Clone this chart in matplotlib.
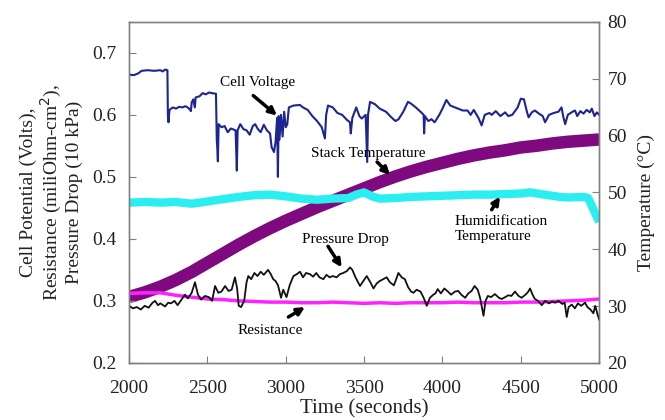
import matplotlib.pyplot as plt
import numpy as np

plt.rcParams['font.family'] = ['Liberation Serif', 'DejaVu Serif']

# cell voltage (V)
volt_t = [2000, 2030, 2060, 2080, 2120, 2160, 2200, 2215, 2230, 2245, 2248, 2252, 2258, 2280, 2300,
          2320, 2340, 2360, 2380, 2395, 2400, 2410, 2420, 2425, 2450, 2470, 2490, 2510, 2530, 2555,
          2560, 2563, 2567, 2572, 2590, 2610, 2630, 2650, 2680, 2688, 2693, 2710, 2730, 2750, 2770,
          2790, 2805, 2820, 2840, 2860, 2880, 2900, 2910, 2925, 2935, 2945, 2950, 2955, 2960, 2970,
          2980, 2990, 3000, 3010, 3020, 3050, 3090, 3110, 3140, 3170, 3200, 3230, 3250, 3258, 3270,
          3300, 3330, 3360, 3390, 3410, 3415, 3425, 3450, 3470, 3485, 3510, 3520, 3525, 3538, 3570,
          3600, 3640, 3670, 3700, 3720, 3750, 3780, 3800, 3830, 3860, 3880, 3883, 3888, 3910, 3930,
          3950, 3980, 4000, 4025, 4050, 4080, 4100, 4130, 4160, 4180, 4200, 4230, 4250, 4270, 4300,
          4314, 4340, 4370, 4400, 4420, 4445, 4460, 4480, 4500, 4520, 4540, 4550, 4570, 4590, 4610,
          4640, 4655, 4680, 4710, 4740, 4760, 4770, 4783, 4800, 4830, 4846, 4860, 4880, 4900, 4920,
          4940, 4953, 4970, 4985, 5000]
volt_v = [0.665, 0.664, 0.667, 0.671, 0.672, 0.671, 0.672, 0.670, 0.673, 0.672, 0.600, 0.588, 0.608, 0.612, 0.610,
          0.613, 0.612, 0.614, 0.611, 0.606, 0.620, 0.625, 0.612, 0.628, 0.630, 0.635, 0.633, 0.636, 0.635, 0.634,
          0.560, 0.548, 0.525, 0.585, 0.580, 0.582, 0.572, 0.578, 0.575, 0.510, 0.575, 0.585, 0.577, 0.575, 0.568,
          0.582, 0.585, 0.578, 0.572, 0.584, 0.575, 0.570, 0.548, 0.540, 0.556, 0.595, 0.500, 0.598, 0.560, 0.600,
          0.565, 0.605, 0.580, 0.585, 0.612, 0.615, 0.616, 0.612, 0.608, 0.598, 0.590, 0.580, 0.562, 0.600, 0.615,
          0.612, 0.603, 0.600, 0.592, 0.588, 0.570, 0.595, 0.612, 0.598, 0.594, 0.600, 0.524, 0.600, 0.621, 0.617,
          0.610, 0.605, 0.597, 0.590, 0.593, 0.605, 0.621, 0.618, 0.612, 0.605, 0.600, 0.570, 0.598, 0.590, 0.593,
          0.588, 0.600, 0.610, 0.624, 0.615, 0.612, 0.610, 0.607, 0.607, 0.600, 0.608, 0.595, 0.583, 0.600, 0.603,
          0.600, 0.606, 0.598, 0.604, 0.598, 0.600, 0.605, 0.612, 0.626, 0.625, 0.604, 0.596, 0.604, 0.607, 0.603,
          0.598, 0.588, 0.600, 0.603, 0.605, 0.612, 0.598, 0.585, 0.600, 0.605, 0.607, 0.598, 0.606, 0.602, 0.608,
          0.604, 0.610, 0.598, 0.604, 0.600]

# stack temperature (deg C)
stack_t = [2000, 2100, 2200, 2300, 2400, 2500, 2600, 2700, 2800, 2900, 3000, 3100, 3200, 3300, 3400, 3500,
           3600, 3700, 3800, 3900, 4000, 4100, 4200, 4300, 4400, 4500, 4600, 4700, 4800, 4900, 5000]
stack_v = [31.6, 32.4, 33.4, 34.6, 36.0, 37.6, 39.2, 40.8, 42.3, 43.7, 45.0, 46.2, 47.4, 48.5, 49.6, 50.7,
           51.8, 52.8, 53.7, 54.5, 55.2, 55.9, 56.5, 57.0, 57.4, 57.9, 58.2, 58.6, 58.9, 59.1, 59.3]

# humidification temperature (deg C)
humid_t = [2000, 2100, 2200, 2300, 2400, 2500, 2600, 2700, 2800, 2900, 3000, 3100, 3200, 3300, 3400, 3450,
           3500, 3550, 3600, 3700, 3800, 3900, 4000, 4100, 4200, 4300, 4400, 4500, 4560, 4650, 4750, 4800,
           4900, 4930, 4960, 4980, 5000]
humid_v = [48.2, 48.3, 48.2, 48.3, 48.0, 48.4, 48.8, 49.2, 49.5, 49.6, 49.3, 48.9, 48.7, 48.9, 49.0, 49.6,
           50.0, 49.3, 48.9, 49.0, 49.2, 49.3, 49.4, 49.5, 49.6, 49.6, 49.7, 49.8, 50.0, 49.6, 49.2, 49.1,
           49.2, 49.0, 47.2, 46.0, 44.8]

# resistance (miliOhm-cm2)
res_t = [2000, 2100, 2200, 2300, 2400, 2500, 2600, 2700, 2800, 2900, 3000, 3100, 3200, 3300, 3400, 3500,
         3600, 3700, 3800, 3900, 4000, 4100, 4200, 4300, 4400, 4500, 4600, 4700, 4800, 4900, 5000]
res_v = [0.312, 0.313, 0.313, 0.309, 0.306, 0.303, 0.302, 0.300, 0.299, 0.298, 0.298, 0.297, 0.297, 0.298, 0.297, 0.296,
         0.297, 0.296, 0.297, 0.297, 0.297, 0.298, 0.297, 0.297, 0.297, 0.298, 0.298, 0.299, 0.300, 0.301, 0.303]

# pressure drop (10 kPa)
press_t = [2000, 2025, 2050, 2075, 2100, 2125, 2150, 2166, 2185, 2200, 2230, 2250, 2268, 2290, 2310, 2335,
           2357, 2375, 2400, 2421, 2440, 2460, 2485, 2510, 2530, 2549, 2570, 2590, 2613, 2635, 2655, 2676,
           2690, 2700, 2715, 2735, 2750, 2761, 2780, 2800, 2820, 2840, 2860, 2887, 2905, 2920, 2935, 2951,
           2970, 2984, 3005, 3025, 3049, 3070, 3091, 3110, 3130, 3155, 3175, 3195, 3215, 3240, 3260, 3280,
           3300, 3325, 3345, 3367, 3390, 3410, 3425, 3445, 3474, 3495, 3517, 3540, 3560, 3580, 3600, 3622,
           3644, 3665, 3690, 3705, 3719, 3740, 3760, 3781, 3800, 3815, 3835, 3860, 3880, 3900, 3920, 3942,
           3955, 3970, 3990, 4012, 4035, 4055, 4080, 4101, 4120, 4145, 4165, 4186, 4205, 4225, 4240, 4250,
           4262, 4275, 4290, 4310, 4335, 4360, 4378, 4400, 4420, 4440, 4463, 4485, 4505, 4530, 4545, 4559,
           4575, 4590, 4610, 4634, 4655, 4680, 4700, 4719, 4740, 4765, 4780, 4793, 4805, 4825, 4845, 4865,
           4885, 4910, 4925, 4945, 4963, 4975, 4990, 5000]
press_v = [0.292, 0.288, 0.290, 0.286, 0.292, 0.289, 0.297, 0.300, 0.293, 0.296, 0.291, 0.297, 0.296, 0.300, 0.293, 0.302,
           0.310, 0.304, 0.313, 0.330, 0.310, 0.302, 0.308, 0.306, 0.300, 0.324, 0.313, 0.315, 0.324, 0.316, 0.318, 0.338,
           0.320, 0.292, 0.290, 0.300, 0.330, 0.340, 0.335, 0.345, 0.340, 0.347, 0.342, 0.350, 0.343, 0.335, 0.332, 0.325,
           0.305, 0.318, 0.306, 0.325, 0.340, 0.343, 0.347, 0.338, 0.345, 0.343, 0.339, 0.345, 0.338, 0.335, 0.342, 0.338,
           0.340, 0.338, 0.343, 0.345, 0.348, 0.354, 0.350, 0.338, 0.324, 0.332, 0.340, 0.330, 0.320, 0.328, 0.332, 0.335,
           0.338, 0.330, 0.325, 0.335, 0.345, 0.338, 0.335, 0.322, 0.315, 0.313, 0.318, 0.315, 0.305, 0.292, 0.305, 0.310,
           0.312, 0.319, 0.312, 0.320, 0.315, 0.310, 0.315, 0.316, 0.310, 0.305, 0.312, 0.316, 0.324, 0.318, 0.305, 0.292,
           0.276, 0.300, 0.308, 0.306, 0.311, 0.305, 0.303, 0.306, 0.309, 0.308, 0.315, 0.308, 0.305, 0.310, 0.314, 0.320,
           0.310, 0.303, 0.300, 0.293, 0.300, 0.296, 0.299, 0.297, 0.300, 0.295, 0.297, 0.274, 0.290, 0.294, 0.288, 0.296,
           0.292, 0.297, 0.290, 0.286, 0.280, 0.292, 0.278, 0.270]

x_ticks = [2000, 2500, 3000, 3500, 4000, 4500, 5000]
left_ticks = [0.2, 0.3, 0.4, 0.5, 0.6, 0.7]
right_ticks = [20, 30, 40, 50, 60, 70, 80]

fig = plt.figure(figsize=(6.65, 4.2), dpi=100)
ax = fig.add_axes([0.194, 0.136, 0.707, 0.812])
ax2 = ax.twinx()

# temperature bands drawn below the left-axis lines
ax2.plot(stack_t, stack_v, color='#7f0a7f', linewidth=9, solid_capstyle='butt')
ax2.plot(humid_t, humid_v, color='#2aeef0', linewidth=6, solid_capstyle='butt')
ax.set_zorder(ax2.get_zorder() + 1)
ax.patch.set_visible(False)

ax.plot(res_t, res_v, color='#ff22ff', linewidth=2.5)
ax.plot(press_t, press_v, color='#111111', linewidth=1.3)
ax.plot(volt_t, volt_v, color='#1c2590', linewidth=1.5)

ax.set_xlim(2000, 5000)
ax.set_ylim(0.2, 0.75)
ax2.set_ylim(20, 80)
ax.set_xticks(x_ticks)
ax.set_yticks(left_ticks)
ax.set_yticklabels([f'{v:.1f}' for v in left_ticks])
ax2.set_yticks(right_ticks)

spine_c = '#808080'
for a in (ax, ax2):
    for s in a.spines.values():
        s.set_color(spine_c)
        s.set_linewidth(1.0)
ax.tick_params(axis='both', direction='in', length=5, color=spine_c, labelsize=14, labelcolor='#222222')
ax.tick_params(axis='x', pad=12)
ax.tick_params(axis='y', pad=9)
ax2.tick_params(axis='y', direction='in', length=5, color=spine_c, labelsize=14, labelcolor='#222222', pad=6)

ax.text(-0.165, 0.5, 'Cell Potential (Volts),\nResistance (miliOhm-cm$^2$),\nPressure Drop (10 kPa)',
        transform=ax.transAxes, rotation=90, ha='center', va='center', multialignment='center',
        fontsize=14, color='#222222', linespacing=1.1)
ax.text(1.1, 0.47, 'Temperature (°C)', transform=ax.transAxes, rotation=90,
        ha='center', va='center', fontsize=14, color='#222222')
ax.set_xlabel('Time (seconds)', fontsize=15, color='#222222', labelpad=2)

arrow = dict(arrowstyle='-|>', lw=2.5, color='black', mutation_scale=11, shrinkA=0, shrinkB=0)
ax.text(2823, 0.652, 'Cell Voltage', fontsize=11, ha='center', va='center')
ax.annotate('', xy=(2944, 0.599), xytext=(2793, 0.631), arrowprops=arrow)
ax.text(3525, 0.538, 'Stack Temperature', fontsize=11, ha='center', va='center')
ax.annotate('', xy=(3666, 0.503), xytext=(3583, 0.524), arrowprops=arrow)
ax.text(3378, 0.399, 'Pressure Drop', fontsize=11, ha='center', va='center')
ax.annotate('', xy=(3357, 0.354), xytext=(3270, 0.388), arrowprops=arrow)
ax.text(2900, 0.252, 'Resistance', fontsize=11, ha='center', va='center')
ax.annotate('', xy=(3123, 0.290), xytext=(3017, 0.274), arrowprops=arrow)
ax.text(4080, 0.4165, 'Humidification\nTemperature', fontsize=11, ha='left', va='center')
ax.annotate('', xy=(4367, 0.468), xytext=(4314, 0.447), arrowprops=arrow)

fig.savefig('out.png', dpi=100)
